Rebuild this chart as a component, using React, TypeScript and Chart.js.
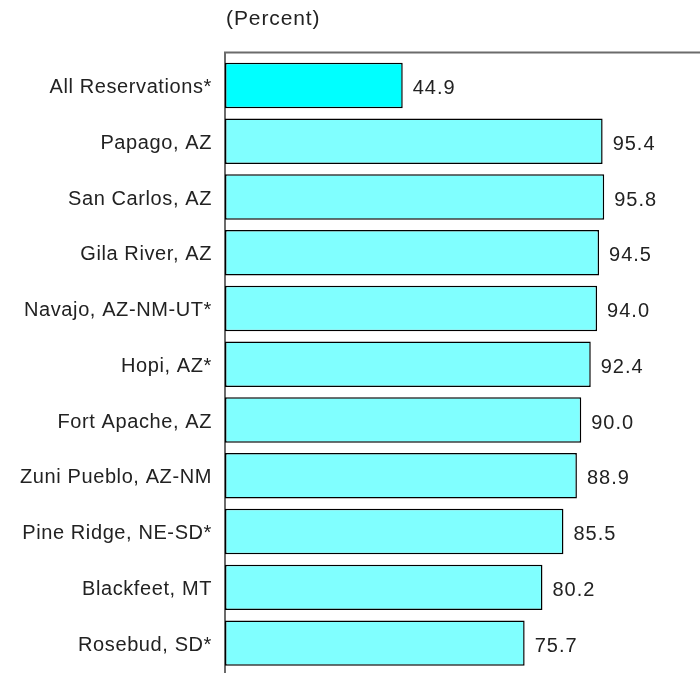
import React, { useEffect, useRef } from "react";
import { Chart, registerables } from "chart.js";

Chart.register(...registerables);

const categories = [
  "All Reservations*",
  "Papago, AZ",
  "San Carlos, AZ",
  "Gila River, AZ",
  "Navajo, AZ-NM-UT*",
  "Hopi, AZ*",
  "Fort Apache, AZ",
  "Zuni Pueblo, AZ-NM",
  "Pine Ridge, NE-SD*",
  "Blackfeet, MT",
  "Rosebud, SD*",
];
const values = [44.9, 95.4, 95.8, 94.5, 94.0, 92.4, 90.0, 88.9, 85.5, 80.2, 75.7];
const barColors = [
  "#00FFFF", "#80FFFF", "#80FFFF", "#80FFFF", "#80FFFF", "#80FFFF",
  "#80FFFF", "#80FFFF", "#80FFFF", "#80FFFF", "#80FFFF",
];
const unitLabel = "(Percent)";
const xMin = 0;
const xMax = 120;

const FONT = "'Liberation Sans', Arial, Helvetica, sans-serif";

const framePlugin = {
  id: "frame",
  beforeLayout(chart: any) {
    chart.ctx.letterSpacing = "0.6px";
  },
  beforeDatasetsDraw(chart: any) {
    const { ctx, chartArea } = chart;
    ctx.save();
    ctx.strokeStyle = "#6b6b6b";
    ctx.lineWidth = 2;
    const topY = chartArea.top - 5;
    ctx.beginPath();
    ctx.moveTo(chartArea.left, chart.height);
    ctx.lineTo(chartArea.left, topY);
    ctx.lineTo(chart.width, topY);
    ctx.stroke();
    ctx.fillStyle = "#222";
    ctx.font = `21px ${FONT}`;
    ctx.letterSpacing = "0.9px";
    ctx.textAlign = "left";
    ctx.textBaseline = "middle";
    ctx.fillText(unitLabel, chartArea.left + 1, 19);
    ctx.restore();
  },
  afterDatasetsDraw(chart: any) {
    const { ctx } = chart;
    const meta = chart.getDatasetMeta(0);
    ctx.save();
    ctx.fillStyle = "#222";
    ctx.font = `20px ${FONT}`;
    ctx.letterSpacing = "1px";
    ctx.textAlign = "left";
    ctx.textBaseline = "middle";
    meta.data.forEach((bar: any, i: number) => {
      ctx.fillText(values[i].toFixed(1), bar.x + 10, bar.y + 3);
    });
    ctx.restore();
  },
};

export default function App() {
  const ref = useRef<HTMLCanvasElement>(null);
  useEffect(() => {
    document.body.style.margin = "0";
    const chart = new Chart(ref.current!, {
      type: "bar",
      data: {
        labels: categories,
        datasets: [
          {
            data: values,
            backgroundColor: barColors,
            borderColor: "#000",
            borderWidth: 1.5,
            borderSkipped: false,
            categoryPercentage: 1,
            barPercentage: 0.815,
          },
        ],
      },
      options: {
        indexAxis: "y",
        animation: false,
        responsive: false,
        layout: { padding: { top: 57.6, bottom: 2, left: 0, right: 0 } },
        plugins: {
          legend: { display: false },
          tooltip: { enabled: false },
        },
        scales: {
          x: { display: false, min: xMin, max: xMax },
          y: {
            grid: { display: false, drawTicks: false },
            border: { display: false },
            ticks: {
              color: "#222",
              font: { family: FONT, size: 20 },
              padding: 13,
              labelOffset: 2,
            },
            afterFit(scale: any) {
              scale.width = 225;
              scale.paddingTop = 0;
              scale.paddingBottom = 0;
            },
          },
        },
      },
      plugins: [framePlugin],
    });
    return () => chart.destroy();
  }, []);
  return (
    <div style={{ position: "absolute", left: 0, top: 0, width: 700, height: 673 }}>
      <canvas ref={ref} width={700} height={673} style={{ display: "block" }} />
    </div>
  );
}
